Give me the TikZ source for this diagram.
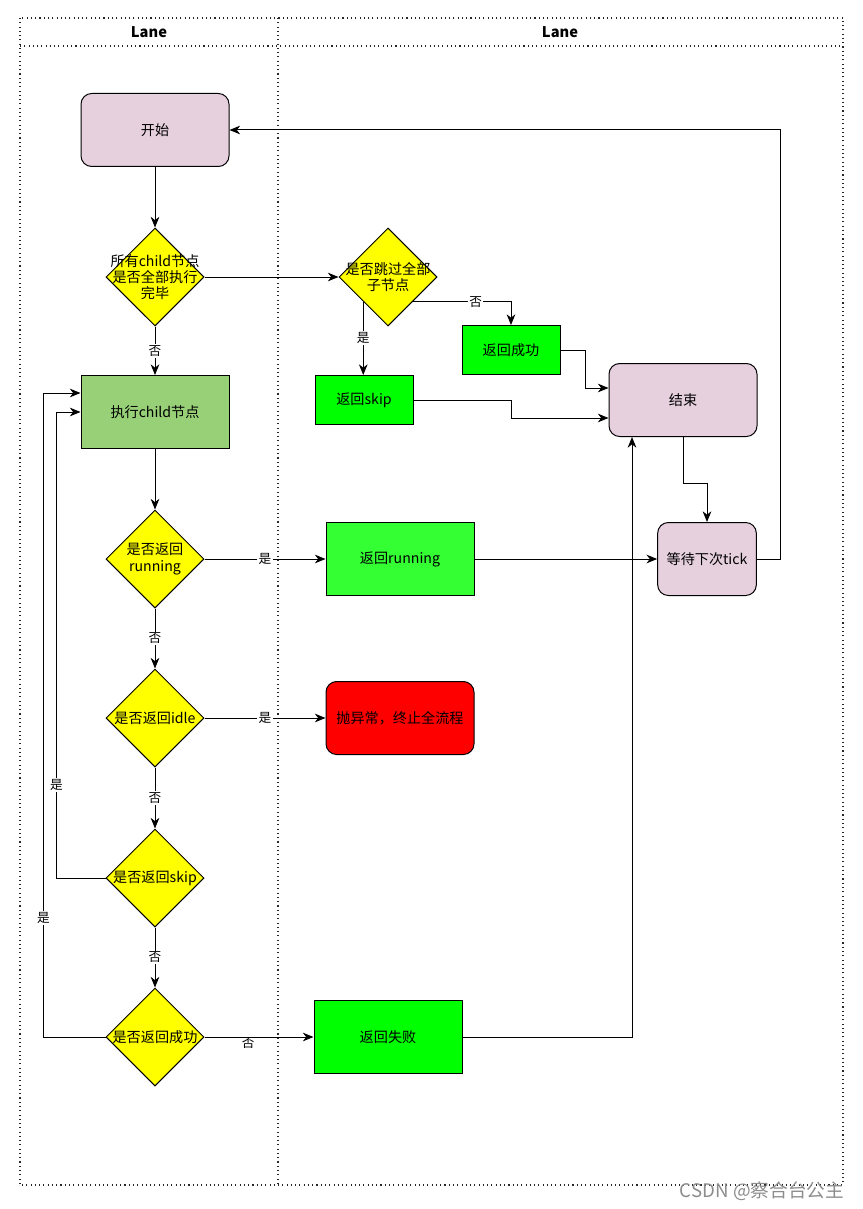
\documentclass[tikz,border=0pt]{standalone}
\usepackage{fontspec}
\setmainfont{Noto Sans CJK SC}
\usepackage{tikz}
\usetikzlibrary{arrows.meta,shapes.geometric,calc}

\definecolor{termpink}{HTML}{E6D0DE}
\definecolor{retgreen}{HTML}{00FF00}
\definecolor{rungreen}{HTML}{33FF33}
\definecolor{execgreen}{HTML}{97D077}
\definecolor{askyellow}{HTML}{FFFF00}
\definecolor{errred}{HTML}{FF0000}

\begin{document}
\begin{tikzpicture}[x=0.75pt,y=-0.75pt,->,>={Stealth[length=8pt,width=6.5pt,inset=2.5pt]},
                    line width=0.75pt,font=\fontsize{10.6}{12.2}\selectfont]

  \tikzstyle{lanedot}=[-,line width=0.8pt,dash pattern=on 0.8pt off 2.4pt,black!85]
  \tikzstyle{term}=[draw,fill=termpink,rounded corners=8pt,minimum width=111pt,minimum height=54.75pt]
  \tikzstyle{bigbox}=[draw,minimum width=111pt,minimum height=54.75pt]
  \tikzstyle{smallbox}=[draw,fill=retgreen,minimum width=73.5pt,minimum height=36.75pt]
  \tikzstyle{ask}=[draw,diamond,aspect=1,fill=askyellow,minimum width=73.5pt,
                   minimum height=73.5pt,inner sep=0pt]
  \tikzstyle{lbl}=[fill=white,inner sep=1pt,font=\fontsize{9.5}{11}\selectfont]

  \useasboundingbox (0,0) rectangle (863,1209);

  % pool and lanes
  \draw[lanedot] (20,18) rectangle (843,1185);
  \draw[lanedot] (20,46) -- (843,46);
  \draw[lanedot] (278,18) -- (278,1185);
  \node[font=\bfseries\fontsize{11}{12}\selectfont] (laneL) at (149,32) {Lane};
  \node[font=\bfseries\fontsize{11}{12}\selectfont] (laneR) at (560,32) {Lane};

  % nodes
  \node[term]                  (start)   at (155,130)  {开始};
  \node[ask,label={[align=center]center:所有child节点\\是否全部执行\\完毕}]
                               (alldone) at (155,277)  {};
  \node[ask,label={[align=center]center:是否跳过全部\\子节点}]
                               (skipall) at (388,277)  {};
  \node[smallbox]              (retok)   at (511,350)  {返回成功};
  \node[smallbox]              (retskip) at (364,400)  {返回skip};
  \node[term]                  (finish)  at (683,400)  {结束};
  \node[bigbox,fill=execgreen] (exec)    at (155,412)  {执行child节点};
  \node[ask,label={[align=center]center:是否返回\\running}]
                               (isrun)   at (155,559)  {};
  \node[bigbox,fill=rungreen]  (retrun)  at (400,559)  {返回running};
  \node[term,minimum width=74pt] (wait)  at (707,559)  {等待下次tick};
  \node[ask,label={center:是否返回idle}]
                               (isidle)  at (155,718)  {};
  \node[bigbox,fill=errred,rounded corners=8pt]
                               (abort)   at (400,718)  {抛异常，终止全流程};
  \node[ask,label={center:是否返回skip}]
                               (isskip)  at (155,878)  {};
  \node[ask,label={center:是否返回成功}]
                               (isok)    at (155,1037) {};
  \node[bigbox,fill=retgreen]  (retfail) at (388,1037) {返回失败};

  % connectors
  \path (start)   edge                     (alldone)
        (alldone) edge node[lbl] {否}      (exec)
        (alldone) edge                     (skipall)
        (exec)    edge                     (isrun)
        (isrun)   edge node[lbl] {是}      (retrun)
        (isrun)   edge node[lbl] {否}      (isidle)
        (retrun)  edge                     (wait)
        (isidle)  edge node[lbl] {是}      (abort)
        (isidle)  edge node[lbl] {否}      (isskip)
        (isskip)  edge node[lbl] {否}      (isok)
        (isok)    edge node[lbl,fill=none,pos=0.4,yshift=-4.5pt] {否} (retfail);

  \draw (skipall.south east) -| node[lbl,pos=0.32] {否} (retok.north);
  \draw (skipall.south west) -- node[lbl] {是} (skipall.south west |- retskip.north);
  \draw (retok.east) -- ++(25,0) |- ($(finish.west)+(0,-12)$);
  \draw (retskip.east) -- ++(98,0) |- ($(finish.west)+(0,18)$);
  \draw (finish.south) -- ++(0,46) -| (wait.north);
  \draw (wait.east) -- ++(24,0) |- (start.east);
  \draw (retfail.east) -| ($(finish.south)+(-51,0)$);
  \draw (isskip.west) -- ++(-49,0) -- node[lbl,pos=0.2] {是} ++(0,-466) -- (exec.west);
  \draw (isok.west) -- ++(-62,0) -- node[lbl,pos=0.185] {是} ++(0,-644) -- ($(exec.west)+(0,-19)$);

  % watermark
  \node[text=black!45,font=\fontsize{14}{16}\selectfont] (mark) at (762,1191) {CSDN @察合台公主};
\end{tikzpicture}
\end{document}
